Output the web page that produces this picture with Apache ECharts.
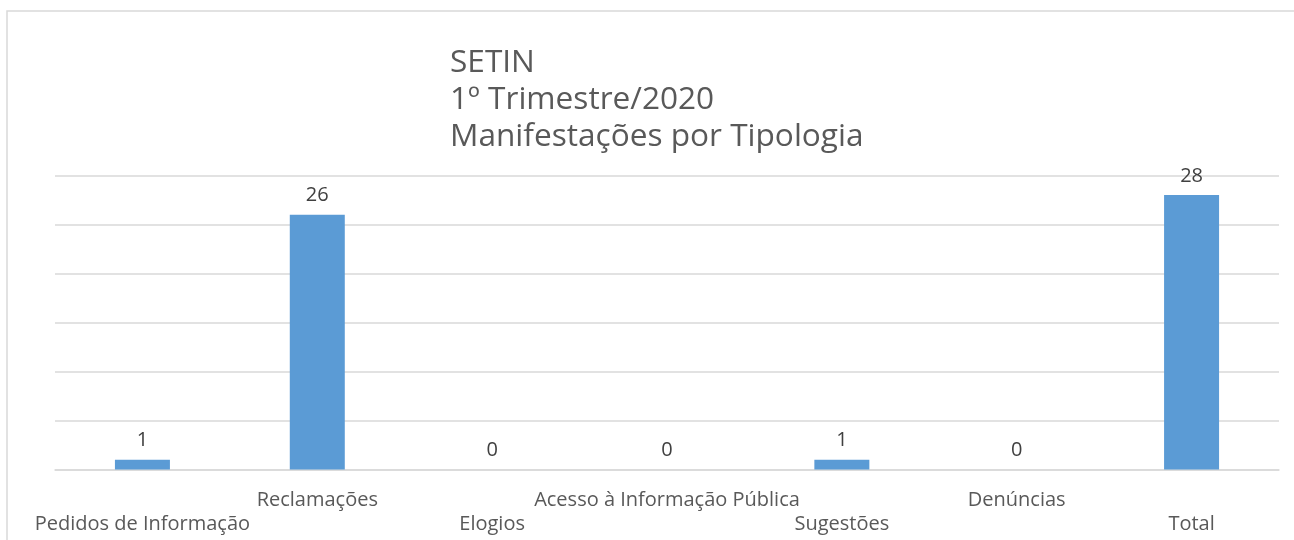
<!DOCTYPE html>
<html>
<head>
<meta charset="utf-8">
<script src="https://cdn.jsdelivr.net/npm/echarts@6/dist/echarts.min.js"></script>
<style>
  html, body { margin: 0; padding: 0; background: #fff; }
  #chart { width: 1294px; height: 540px; }
</style>
</head>
<body>
<div id="chart"></div>
<script>
var categorias = ["Pedidos de Informação", "Reclamações", "Elogios", "Acesso à Informação Pública", "Sugestões", "Denúncias", "Total"];
var valores = [1, 26, 0, 0, 1, 0, 28];
var tituloLinhas = ["SETIN", "1º Trimestre/2020", "Manifestações por Tipologia"];

var myChart = echarts.init(document.getElementById("chart"));
var option = {
  animation: false,
  textStyle: { fontFamily: "Open Sans" },
  graphic: [
    {
      type: "rect",
      shape: { x: 7, y: 11, width: 1300, height: 600 },
      style: { fill: "none", stroke: "#d9d9d9", lineWidth: 1.5 },
      silent: true
    }
  ],
  title: {
    text: tituloLinhas.join("\n"),
    left: 445,
    top: 39,
    textStyle: {
      fontFamily: "Open Sans",
      fontSize: 31.6,
      fontWeight: "normal",
      color: "#595959",
      lineHeight: 37
    }
  },
  grid: { left: 55, right: 15, top: 175.5, bottom: 70.5, containLabel: false },
  xAxis: {
    type: "category",
    data: categorias,
    axisLine: { lineStyle: { color: "#d9d9d9", width: 1.5 } },
    axisTick: { show: false },
    axisLabel: {
      interval: 0,
      margin: 19,
      fontSize: 20,
      color: "#595959",
      lineHeight: 24,
      formatter: function (v, i) { return i % 2 === 0 ? "\n" + v : v; }
    }
  },
  yAxis: {
    type: "value",
    min: 0,
    max: 30,
    interval: 5,
    axisLabel: { show: false },
    axisLine: { show: false },
    axisTick: { show: false },
    splitLine: { lineStyle: { color: "#d9d9d9", width: 1.5 } }
  },
  series: [
    {
      type: "bar",
      data: valores,
      barWidth: 55,
      itemStyle: { color: "#5b9bd5" },
      label: {
        show: true,
        position: "top",
        distance: 9,
        fontSize: 20,
        color: "#404040"
      }
    }
  ]
};
myChart.setOption(option);
</script>
</body>
</html>
